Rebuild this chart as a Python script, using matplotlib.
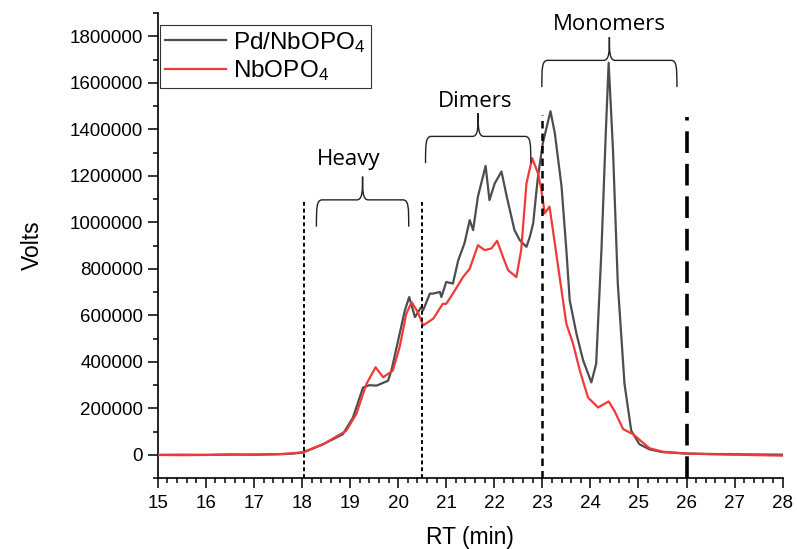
import numpy as np
import matplotlib.pyplot as plt
from matplotlib.path import Path
from matplotlib.patches import PathPatch
from matplotlib.ticker import MultipleLocator, FuncFormatter

plt.rcParams['font.family'] = ['Liberation Sans', 'DejaVu Sans']
plt.rcParams['mathtext.fontset'] = 'custom'
plt.rcParams['mathtext.rm'] = 'Liberation Sans'
plt.rcParams['mathtext.default'] = 'rm'

# Pd/NbOPO4 trace (RT min, signal)
pd_rt = [15.0, 15.5, 16.0, 16.5, 17.0, 17.5, 17.75, 18.02, 18.44, 18.85, 19.06, 19.2, 19.27,
         19.4, 19.55, 19.79, 19.86, 20.0, 20.14, 20.23, 20.35, 20.48, 20.52, 20.66, 20.73,
         20.87, 20.9, 21.0, 21.14, 21.25, 21.38, 21.49, 21.56, 21.66, 21.82, 21.9, 22.01,
         22.15, 22.26, 22.42, 22.53, 22.67, 22.74, 22.81, 22.88, 22.91, 23.01, 23.17, 23.26,
         23.4, 23.5, 23.57, 23.71, 23.85, 24.02, 24.12, 24.23, 24.32, 24.38, 24.47, 24.57,
         24.71, 24.85, 25.02, 25.23, 25.5, 26.0, 26.5, 27.0, 27.5, 28.0]
pd_sig = [0, 1000, 0, 2000, 1000, 3000, 5000, 10000, 46000, 89000, 161000, 247000, 290000,
          300000, 298000, 319000, 363000, 492000, 622000, 679000, 593000, 636000, 622000, 694000, 694000,
          701000, 679000, 744000, 737000, 837000, 910000, 1010000, 967000, 1111000, 1243000, 1096000, 1168000,
          1219000, 1111000, 967000, 924000, 895000, 938000, 996000, 1140000, 1197000, 1341000, 1478000, 1384000,
          1154000, 881000, 665000, 521000, 406000, 312000, 392000, 881000, 1384000, 1687000, 1312000, 737000,
          305000, 104000, 46000, 24000, 12000, 6000, 4000, 3000, 2000, 1000]

# NbOPO4 trace
nb_rt = [15.0, 15.5, 16.0, 16.5, 17.0, 17.5, 17.75, 18.02, 18.44, 18.92, 19.13, 19.34, 19.53,
         19.69, 19.89, 20.03, 20.17, 20.28, 20.41, 20.52, 20.73, 20.93, 21.0, 21.14, 21.35,
         21.49, 21.66, 21.8, 21.94, 22.06, 22.18, 22.29, 22.46, 22.56, 22.67, 22.79, 22.91,
         22.98, 23.05, 23.15, 23.26, 23.36, 23.5, 23.64, 23.78, 23.95, 24.16, 24.38, 24.5,
         24.68, 24.89, 25.09, 25.23, 25.5, 26.0, 26.5, 27.0, 27.5, 28.0]
nb_sig = [0, -1000, 0, 1000, 2000, 3000, 6000, 12000, 46000, 104000, 176000, 305000, 377000,
          334000, 363000, 463000, 607000, 657000, 614000, 557000, 586000, 650000, 650000, 694000, 765000,
          801000, 902000, 881000, 888000, 921000, 852000, 794000, 765000, 881000, 1168000, 1276000, 1211000,
          1140000, 1039000, 1068000, 910000, 765000, 564000, 478000, 363000, 247000, 204000, 230000, 190000,
          111000, 89000, 53000, 29000, 14000, 6000, 3000, 1000, -1000, -3000]

# region markers: x, top, dash pattern, width
mark_x = [18.05, 20.5, 23.0, 26.0]
mark_top = [1097000, 1088000, 1463000, 1455000]
mark_dash = [(2, 1.5), (2, 1.5), (3, 2), (6, 3)]
mark_lw = [1.4, 1.4, 1.8, 2.6]

# brace groups: label, x start, x end, brace level, label x, label y
grp_names = ['Heavy', 'Dimers', 'Monomers']
grp_x0 = [18.3, 20.57, 22.99]
grp_x1 = [20.22, 22.76, 25.8]
grp_y = [1097000, 1370000, 1697000]
grp_tx = [18.97, 21.61, 24.4]
grp_ty = [1247000, 1495000, 1828000]

fig = plt.figure(figsize=(7.97, 5.49), dpi=100)
ax = fig.add_axes([0.198, 0.129, 0.784, 0.847])

ax.plot(pd_rt, pd_sig, color='#4d4d4d', lw=1.6, label='Pd/NbOPO$_4$', zorder=3)
ax.plot(nb_rt, nb_sig, color='#f03a3a', lw=1.6, label='NbOPO$_4$', zorder=4)

for x, top, ds, lw in zip(mark_x, mark_top, mark_dash, mark_lw):
    ax.plot([x, x], [-100000, top], color='black', lw=lw, dashes=ds, zorder=5)


def brace(x0, x1, y, depth=115000, tip=100000, r=0.12):
    xm = (x0 + x1) / 2
    verts = [(x0, y - depth), (x0, y - depth * 0.3), (x0, y), (x0 + r, y),
             (xm - r, y),
             (xm, y), (xm, y + tip * 0.4), (xm, y + tip),
             (xm, y + tip * 0.4), (xm, y), (xm + r, y),
             (x1 - r, y),
             (x1, y), (x1, y - depth * 0.3), (x1, y - depth)]
    codes = [Path.MOVETO, Path.CURVE4, Path.CURVE4, Path.CURVE4,
             Path.LINETO,
             Path.CURVE4, Path.CURVE4, Path.CURVE4,
             Path.CURVE4, Path.CURVE4, Path.CURVE4,
             Path.LINETO,
             Path.CURVE4, Path.CURVE4, Path.CURVE4]
    ax.add_patch(PathPatch(Path(verts, codes), fill=False, lw=1.0, ec='#222222', zorder=6))


for name, x0, x1, y, tx, ty in zip(grp_names, grp_x0, grp_x1, grp_y, grp_tx, grp_ty):
    brace(x0, x1, y)
    ax.text(tx, ty, name, ha='center', va='baseline', fontsize=16,
            family=['Open Sans', 'DejaVu Sans'])

ax.set_xlim(15, 28)
ax.set_ylim(-100000, 1900000)
ax.xaxis.set_major_locator(MultipleLocator(1))
ax.xaxis.set_minor_locator(MultipleLocator(0.2))
ax.yaxis.set_major_locator(MultipleLocator(200000))
ax.yaxis.set_minor_locator(MultipleLocator(100000))
ax.yaxis.set_major_formatter(FuncFormatter(lambda v, p: '%d' % round(v)))
ax.tick_params(which='both', direction='out', width=1.1, labelsize=13.5)
ax.tick_params(which='major', length=7)
ax.tick_params(which='minor', length=3.5)
ax.tick_params(axis='x', pad=5)
ax.tick_params(axis='y', pad=3.5)
for s in ['top', 'right']:
    ax.spines[s].set_visible(False)
for s in ['left', 'bottom']:
    ax.spines[s].set_linewidth(1.2)

ax.set_xlabel('RT (min)', fontsize=16.5, labelpad=10)
ax.set_ylabel('Volts', fontsize=16.5, labelpad=19)

leg = ax.legend(loc='upper left', bbox_to_anchor=(0.004, 0.975), fontsize=17.5,
                frameon=True, fancybox=False, edgecolor='black', handlelength=2.5,
                borderpad=0.2, labelspacing=0.15, handletextpad=0.3, borderaxespad=0)
leg.get_frame().set_linewidth(0.8)

fig.savefig('out.png', dpi=100)
